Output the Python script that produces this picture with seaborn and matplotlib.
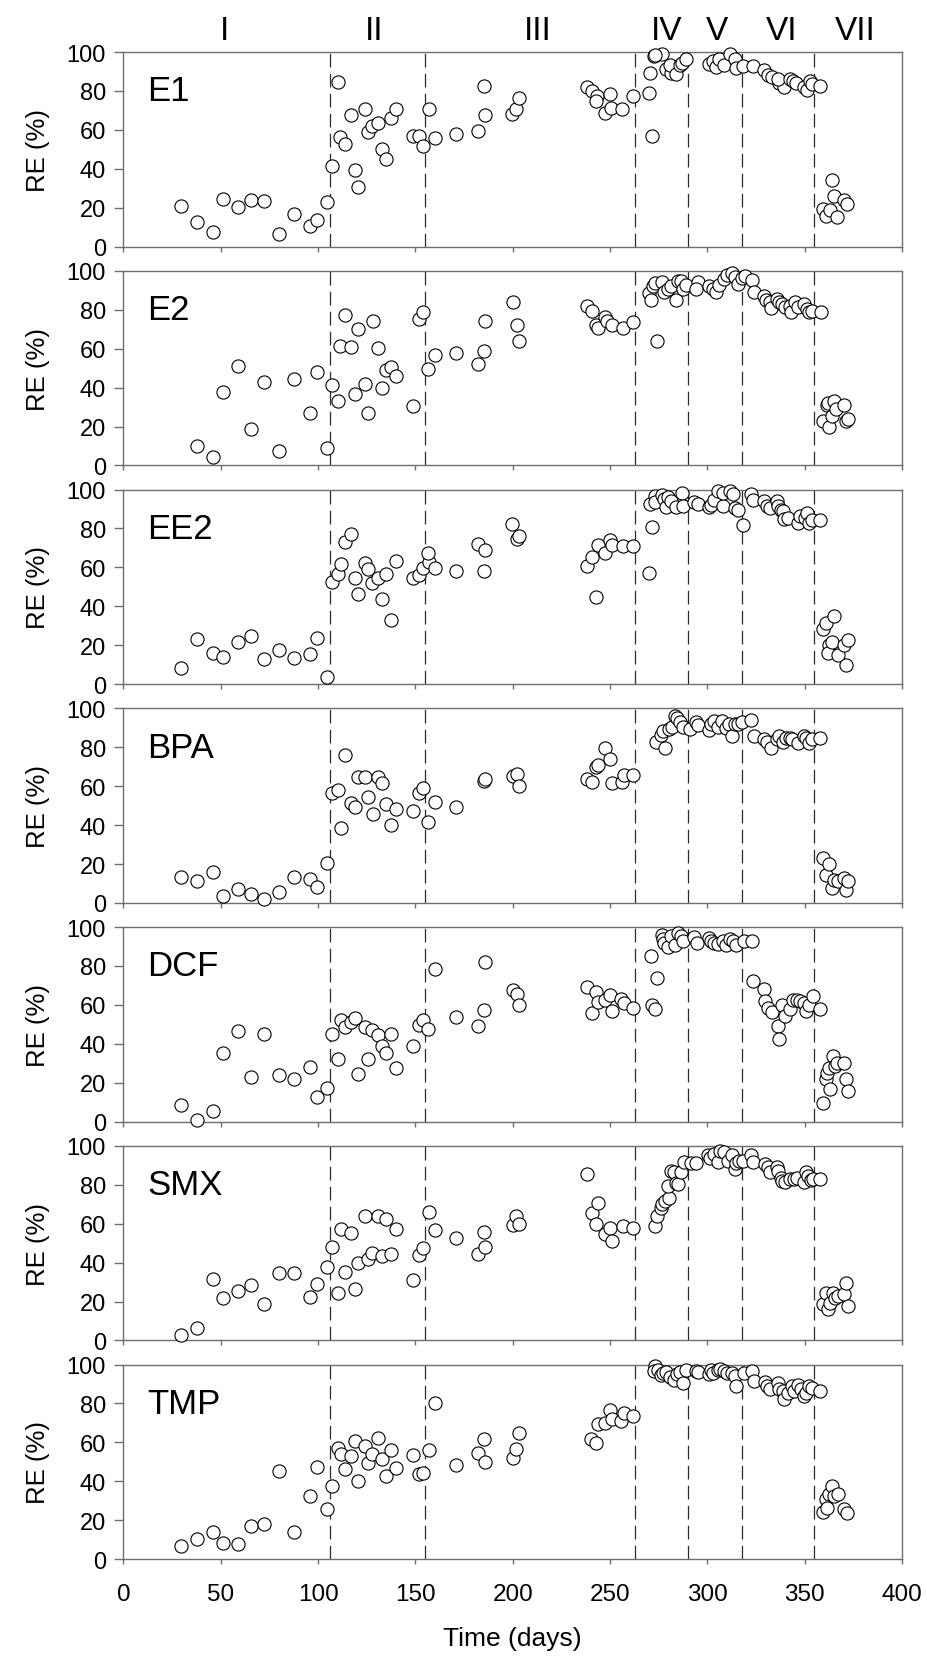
import pandas as pd
import matplotlib
matplotlib.use('Agg')
import matplotlib.pyplot as plt
import seaborn as sns

# phase boundaries (days) and roman numeral labels
PHASE_BOUNDS = [106, 155, 263, 290, 318, 355]
PHASE_NAMES = ['I', 'II', 'III', 'IV', 'V', 'VI', 'VII']
PHASE_LABEL_X = [52, 129, 213, 279, 305, 338, 376]

E1_DAYS = [29.8, 38, 45.9, 51, 59, 65.7, 72, 80, 87.8, 95.7, 99.7, 104.6, 107, 110.3, 111.5, 114,
           116.7, 118.8, 120.7, 124, 125.8, 127.7, 130.7, 132.8, 134.7, 137.7, 140.1, 149, 152, 153.8,
           156.8, 160.2, 170.8, 182, 185, 186, 199.7, 201.5, 203, 238, 240.7, 243.5, 242.9, 247.4,
           249.8, 250.5, 256, 261.7, 270, 271.7, 270.5, 272.6, 276.6, 273, 279, 281.5, 281, 284, 286,
           287.2, 289, 300.6, 302.7, 304.5, 306, 308.5, 311.5, 314, 314.9, 318.5, 323.7, 329.2, 331.3,
           333.1, 337, 339.2, 336.1, 342.2, 343.8, 345.3, 349.8, 351, 352.8, 353.5, 358, 359.2, 361,
           362.9, 364.1, 365, 366.6, 370.2, 371.7]
E1_RE = [20.8, 12.7, 7.4, 24.7, 20.4, 23.8, 23.5, 6.7, 17, 10.8, 13.9, 22.8, 41.3, 84.6, 56.3, 53,
         67.8, 39.3, 30.5, 70.7, 58.8, 61.9, 63.3, 50.4, 45, 66.2, 70.5, 57, 56.8, 51.6,
         70.7, 55.6, 57.8, 59.5, 82.7, 67.9, 68.3, 70.8, 76.3, 82.2, 80.1, 77.4, 75.1, 68.8,
         78.4, 71.4, 70.8, 77.4, 79.2, 56.9, 89.4, 97.9, 99.1, 98.3, 91.4, 89, 93.5, 88.5, 93.1,
         94.5, 96.2, 94, 95.2, 92.3, 96.6, 93.3, 99.1, 96.6, 91.6, 92.8, 92.8, 90.6, 88.2,
         87.3, 83.9, 82.2, 86, 86, 84.9, 84.2, 82.2, 80.6, 85.1, 83.7, 82.8, 19.6, 15.6,
         19, 34.5, 25.9, 15.3, 24.2, 22.1]

E2_DAYS = [38, 45.9, 51, 59, 65.7, 72, 80, 87.8, 95.7, 99.7, 104.6, 107, 110, 111.5, 114, 116.7,
           118.8, 120.7, 124, 125.8, 128, 130.7, 132.8, 134.7, 137.7, 139.8, 149, 152, 153.8, 156.5,
           160.2, 170.8, 182, 185, 186, 200, 202.1, 203, 238, 240.7, 242.6, 243.8, 247.4, 248.6, 251,
           256.5, 261.7, 270, 271.1, 272.3, 273.9, 273, 276.6, 277.5, 279.6, 281.5, 284, 284.8, 286.6,
           287.5, 288.8, 295.1, 294.2, 300.6, 303, 304.2, 305.8, 308.5, 310.3, 312.8, 314, 315.5, 318,
           319.5, 323.1, 324, 329.2, 330.1, 332, 332.8, 335.6, 337, 338.3, 339.8, 342.2, 343.2, 345,
           346.5, 349.5, 351, 352.3, 353.8, 358.4, 359.6, 361.4, 362, 362.6, 363.8, 365.3, 366.3,
           370, 371.2, 372]
E2_RE = [9.9, 4.3, 37.8, 51.1, 18.6, 42.7, 7.4, 44.3, 26.7, 48, 9.2, 41.5, 33.2, 61.5, 77.4, 61,
         36.6, 70.1, 41.7, 26.8, 74.4, 60.5, 39.8, 48.9, 50.6, 46.2, 30.4, 75.2, 79, 49.6,
         56.9, 57.9, 52, 58.6, 74, 84.1, 72.1, 63.9, 81.9, 79.5, 72.3, 70.4, 76.4, 74.2, 72.3,
         70.8, 73.8, 88.5, 85, 92.3, 63.8, 93.7, 94, 88.9, 90.6, 92.3, 85.1, 95, 95,
         90.6, 92.8, 94, 90.9, 92.3, 90.6, 89.2, 92.8, 95.7, 97.8, 99.1, 96.6, 93.2, 96.1,
         97.4, 95.4, 88.9, 87.2, 85.1, 83.8, 80.7, 85.5, 84.1, 82.7, 81.2, 82.1, 78.6, 83.8,
         81.2, 82.9, 80.3, 78.6, 79.5, 78.6, 22.7, 30.8, 32, 20, 25.6, 33, 29.1,
         30.8, 22.6, 23.9]

EE2_DAYS = [29.8, 38, 45.9, 51, 59, 65.7, 72, 80, 87.8, 95.7, 99.7, 104.6, 107, 110, 111.9, 114,
            116.7, 118.8, 120.7, 124, 125.8, 127.7, 130.7, 132.8, 134.7, 137.7, 139.8, 149, 152, 153.8,
            156.8, 156.5, 160.2, 170.8, 182, 185, 186, 199.7, 202.1, 203, 238, 240.7, 242.9, 243.8,
            247.4, 249.8, 251, 256.5, 261.7, 270, 271.7, 270.5, 273, 273.3, 276.6, 277.5, 278.7, 280,
            281.5, 284, 287, 287.5, 293.2, 295.1, 300.6, 301.8, 303.6, 305.5, 307.9, 308.2, 311.8,
            313.1, 314, 315.5, 318.5, 322.5, 323.7, 329.2, 330.7, 332, 335.6, 336.5, 337.7, 338.9,
            339.5, 341.6, 346.5, 347.7, 350.2, 351, 352.3, 353.8, 358, 359.6, 361.1, 362.6, 362,
            364.1, 365, 366.9, 370.2, 371.2, 372]
EE2_RE = [8.1, 23.4, 16.2, 14.1, 21.8, 24.9, 12.7, 17.4, 13.6, 15.3, 23.5, 3.8, 52.7, 56.7, 62, 72.9,
          77.3, 54.5, 46.4, 62.5, 59.3, 51.9, 54.3, 43.6, 56.5, 32.8, 63.4, 54.5, 56.2, 59.6,
          62.9, 67.5, 59.6, 58.2, 72, 58.2, 68.7, 82.3, 74.6, 76.1, 60.5, 65.3, 45, 71.6,
          67.4, 74.2, 71.6, 71.1, 71.1, 56.9, 80.6, 92.6, 96.9, 93.5, 97.4, 95.2, 90.9, 96,
          94.3, 90.9, 98.3, 91.4, 93.5, 92.6, 90.9, 92.3, 94.8, 99.1, 91.4, 98.3, 99.1,
          97.8, 90.5, 89.7, 82, 97.8, 94.5, 94, 91.4, 90.5, 94, 91.4, 89.7, 88.8,
          84.9, 85.4, 82.8, 86.3, 85.4, 88, 82.8, 84.5, 84.5, 28.2, 31.3, 20.1, 15.8,
          21.8, 35.2, 14.9, 20.1, 10.1, 22.7]

BPA_DAYS = [29.8, 38, 45.9, 51, 59, 65.7, 72, 80, 87.8, 95.7, 99.7, 104.6, 107, 110, 111.9, 114,
            116.7, 118.8, 120.7, 124, 125.8, 128, 130.7, 132.8, 134.7, 137.7, 139.8, 149, 152, 153.8,
            156.5, 160.2, 170.8, 185, 186, 200, 202.1, 203, 238, 240.7, 242.9, 243.8, 247.4, 249.8,
            251, 256, 257.2, 261.7, 273.6, 276.3, 278.1, 277.2, 280.2, 282, 283.5, 284.4, 285.7,
            287.5, 291, 294.2, 295.1, 300.6, 301.8, 303.3, 305.5, 307.3, 309.4, 311, 312.8, 314,
            315.5, 317.6, 322.5, 324, 329.2, 330.4, 332.5, 335.6, 337, 338.9, 340.4, 342.2, 343.5,
            346.5, 349.5, 350.8, 352, 353.8, 358, 359.6, 360.8, 362.6, 363.8, 365, 366.9, 370.2,
            371.2, 372]
BPA_RE = [13.1, 11.3, 15.8, 3.4, 6.9, 4.8, 2.2, 5.8, 13.1, 12.5, 8.4, 20.3, 56.7, 57.9, 38.5, 76.1,
          51.5, 49.5, 64.9, 64.8, 54.3, 45.9, 64.9, 61.5, 50.7, 40.2, 48.1, 47.3, 56.4, 58.8,
          41.8, 51.9, 49.1, 62.7, 63.9, 65.3, 66.2, 60.1, 63.9, 61.9, 69.6, 71, 79.4, 73.9,
          61.5, 61.9, 65.6, 65.6, 82.5, 86.3, 79.4, 88.5, 89.3, 90.2, 96.2, 94.8, 93.1,
          90.2, 89.3, 92.8, 91.4, 89, 91.9, 93.6, 90.5, 93.6, 89.7, 91.9, 85.6, 91.9,
          91.9, 92.8, 94.2, 85.6, 84.2, 82.5, 79.4, 84.2, 85.9, 82.5, 85, 85, 84.2,
          82.1, 85.9, 85, 82.1, 84.2, 84.5, 22.9, 14.6, 19.8, 7.7, 12, 11.2, 12.9,
          6.5, 11.2]

DCF_DAYS = [29.8, 38, 45.9, 51, 59, 65.7, 72, 80, 87.8, 95.7, 99.7, 104.6, 107, 110, 111.9, 114,
            116.7, 118.8, 120.7, 124, 125.8, 127.7, 130.7, 132.8, 134.7, 137.7, 139.8, 149, 152, 153.8,
            156.5, 160.2, 170.8, 182, 185, 186, 200, 202.1, 203, 238, 240.7, 242.9, 243.8, 247.4,
            249.8, 251, 255.6, 257.2, 261.7, 270.8, 271.7, 273.3, 273.9, 276.6, 277.2, 277.8, 279.6,
            281.5, 283.5, 285, 286.3, 287.5, 293.2, 294.5, 300.6, 301.8, 303.6, 305.5, 307.9, 309.4,
            311.5, 313.1, 314.9, 318.8, 322.8, 323.7, 329.2, 329.8, 331.3, 333.1, 336.1, 337, 338.3,
            339.8, 342.6, 343.8, 346, 347.4, 349.8, 350.8, 352.3, 354.4, 358, 359.6, 361.1, 361.7,
            362.6, 362.9, 364.7, 365.7, 366.6, 370, 371.2, 372]
DCF_RE = [8.7, 0.7, 5.3, 35.4, 46.5, 23.1, 45.1, 24.1, 22.1, 27.9, 12.5, 17.3, 45.3, 32.1, 52.1, 48.7,
          51.1, 53.3, 24.3, 48.9, 32.1, 47, 44.3, 38.8, 35.4, 45, 27.7, 39.1, 49.9, 52.5,
          47.4, 78.6, 53.7, 49.1, 57.6, 82.2, 67.5, 65.8, 60, 69.1, 55.9, 66.5, 61.4, 62.7,
          65, 56.8, 63.1, 61, 58.5, 85, 59.7, 57.9, 73.8, 96.1, 93.8, 91.8, 89.7,
          95.2, 90.9, 96.9, 95.2, 92.6, 94.9, 91.8, 94.4, 92.6, 91.8, 91.5, 92.6, 90.9,
          93.8, 92.6, 90.9, 92.6, 93, 72.5, 68.2, 62.2, 58.5, 56.2, 49.4, 42.6, 60.2,
          54.2, 57.9, 62.7, 62.7, 61.9, 61, 57.1, 59.7, 64.4, 57.9, 9.7, 21.7, 25.1,
          27.7, 16.6, 33.7, 28.5, 30.3, 30.3, 22.1, 15.7]

SMX_DAYS = [29.8, 38, 45.9, 51, 59, 65.7, 72, 80, 87.8, 95.7, 99.7, 104.6, 107, 110, 111.9, 114,
            116.7, 118.8, 120.7, 124, 125.5, 127.7, 130.7, 132.8, 134.7, 137.7, 139.8, 149, 152, 153.8,
            156.8, 160.2, 170.8, 182, 185, 186, 200, 201.5, 203, 238, 240.7, 242.9, 243.8, 247.4,
            249.8, 251, 256.5, 261.7, 273, 273.9, 276, 276.9, 278.1, 280.5, 280, 281.5, 282.7, 284,
            285, 286.6, 288.2, 291.8, 294.2, 300.3, 301.5, 303.3, 305.5, 306.4, 308.5, 310.6, 312.8,
            314, 314.6, 316.4, 318.2, 322.5, 323.7, 329.5, 331, 332.2, 335.6, 336.5, 337.7, 338.3,
            339.8, 342.6, 344.4, 346, 349.5, 350.5, 351.7, 353.2, 354.1, 358, 359.6, 361.1, 362,
            363.2, 364.7, 365.7, 366.9, 370, 371.2, 372]
SMX_RE = [2.7, 6.2, 31.4, 21.8, 25.2, 28.5, 18.5, 34.6, 34.6, 22.1, 28.8, 37.7, 48.2, 24.4, 57.1, 35.2,
          55.4, 26.2, 39.6, 64, 42, 44.8, 64, 43.4, 62.3, 44.6, 57.5, 30.9, 43.9, 47.7,
          66, 56.6, 52.7, 44.3, 55.9, 48.2, 59.2, 64, 59.7, 85.4, 65.7, 59.7, 70.8, 54.5,
          58, 51.1, 58.8, 58, 58.8, 64, 68.3, 70, 71.7, 73.4, 79.1, 87.1, 86.3, 81.1,
          80.3, 86.6, 91.8, 91.4, 91.4, 95.2, 93.5, 95.7, 91.8, 97.4, 96.9, 92.3, 95.2,
          88.3, 91.4, 92.3, 92.3, 95.2, 91.8, 90.6, 89.2, 86.3, 89.2, 87.1, 83.7, 82,
          81.5, 83.2, 82.8, 83.7, 81.5, 86.3, 84.6, 82.3, 83.2, 83.2, 18.5, 24.2, 16.3,
          19.4, 24.5, 22, 22.8, 23.7, 29.7, 17.7]

TMP_DAYS = [29.8, 38, 45.9, 51, 59, 65.7, 72, 80, 87.8, 95.7, 99.7, 104.6, 107, 110, 111.9, 114,
            116.7, 118.8, 120.7, 124, 125.8, 127.7, 130.7, 132.8, 134.7, 137.7, 139.8, 149, 152, 153.8,
            156.8, 160.2, 170.8, 182, 185, 186, 200, 201.8, 203, 240.1, 242.9, 243.8, 247.4, 249.8,
            251, 255.6, 257.2, 261.7, 273.3, 272.6, 274.4, 276.3, 277.2, 279, 280.9, 282.7, 284.5,
            285.7, 287.5, 289, 294.2, 295.1, 300.6, 301.8, 303, 305.5, 306.7, 308.5, 310.3, 312.8,
            314, 314.9, 318.8, 322.8, 324, 329.5, 330.7, 332, 336.1, 337, 338.6, 339.5, 341.6, 343.5,
            344.4, 346.5, 348.1, 349.5, 350.8, 352, 353.8, 358, 359.6, 360.8, 361.7, 362.6, 364.1,
            365, 366.9, 370.2, 371.7]
TMP_RE = [6.8, 10.3, 14, 8.2, 7.7, 16.8, 17.9, 45.3, 14, 32.5, 47.4, 25.6, 37.6, 56.9, 53.8, 46.5,
          53, 60.7, 40.2, 58.1, 49.6, 53.8, 62.2, 51.3, 42.7, 55.9, 47, 53.3, 43.6, 44.4,
          55.9, 80.3, 48.4, 54.4, 61.5, 50.1, 52.1, 56.8, 65, 62, 59.8, 69.6, 70.1, 76.9,
          71.8, 70.9, 75.2, 73.5, 99.5, 96.6, 97.1, 94.4, 95.7, 96.2, 93.7, 92.3, 94.9,
          96.2, 90.6, 97.1, 96.6, 96.2, 94.9, 97.1, 95.7, 97.1, 97.8, 96.6, 95.7, 95.7,
          94, 88.9, 95.7, 96.6, 91.5, 90.9, 88.9, 87.2, 90.6, 87.2, 86.3, 82.4, 85.5, 88.9,
          86.3, 89.7, 87.2, 83.8, 85.5, 88.9, 88, 86.3, 24.4, 30.8, 26.5, 33.3, 37.6,
          32.5, 33.3, 25.6, 23.6]

PANELS = [
    ('E1', E1_DAYS, E1_RE),
    ('E2', E2_DAYS, E2_RE),
    ('EE2', EE2_DAYS, EE2_RE),
    ('BPA', BPA_DAYS, BPA_RE),
    ('DCF', DCF_DAYS, DCF_RE),
    ('SMX', SMX_DAYS, SMX_RE),
    ('TMP', TMP_DAYS, TMP_RE),
]

sns.set_style('ticks')
plt.rcParams['font.family'] = ['Liberation Sans', 'DejaVu Sans']
plt.rcParams['text.color'] = 'black'
plt.rcParams['axes.labelcolor'] = 'black'

FRAME = '#6e6e6e'

fig, axes = plt.subplots(len(PANELS), 1, figsize=(9.28, 16.58), dpi=100, sharex=True)
fig.subplots_adjust(left=0.133, right=0.972, top=0.968, bottom=0.059, hspace=0.124)

for i, (ax, (name, days, re_vals)) in enumerate(zip(axes, PANELS)):
    df = pd.DataFrame({'day': days, 're': re_vals})

    for xb in PHASE_BOUNDS:
        ax.axvline(xb, color='#2b2b2b', lw=0.9, dashes=(11, 5), zorder=1)

    sns.scatterplot(data=df, x='day', y='re', ax=ax, color='white', edgecolor='black',
                    s=90, linewidth=0.8, zorder=3, clip_on=False, legend=False)

    ax.set_xlim(0, 400)
    ax.set_ylim(0, 100)
    ax.set_yticks(range(0, 101, 20))
    ax.set_xticks(range(0, 401, 50))
    ax.set_ylabel('RE (%)', fontsize=18.5, labelpad=12)
    ax.set_xlabel('')
    ax.tick_params(axis='y', direction='out', length=6.5, width=1, color=FRAME, pad=6,
                   labelsize=17, labelcolor='black')
    ax.tick_params(axis='x', direction='out', length=3.5, width=1, color=FRAME, pad=14,
                   labelsize=17.5, labelcolor='black')
    for sp in ax.spines.values():
        sp.set_visible(True)
        sp.set_color(FRAME)
        sp.set_linewidth(1.0)

    ax.text(0.031, 0.80, name, transform=ax.transAxes, fontsize=25, va='center', ha='left',
            color='black')

    if i == 0:
        for lx, lab in zip(PHASE_LABEL_X, PHASE_NAMES):
            ax.text(lx, 1.068, lab, transform=ax.get_xaxis_transform(), fontsize=24,
                    ha='center', va='baseline', color='black')

axes[-1].set_xlabel('Time (days)', fontsize=19, labelpad=15, color='black')

fig.savefig('out.png', dpi=100)
